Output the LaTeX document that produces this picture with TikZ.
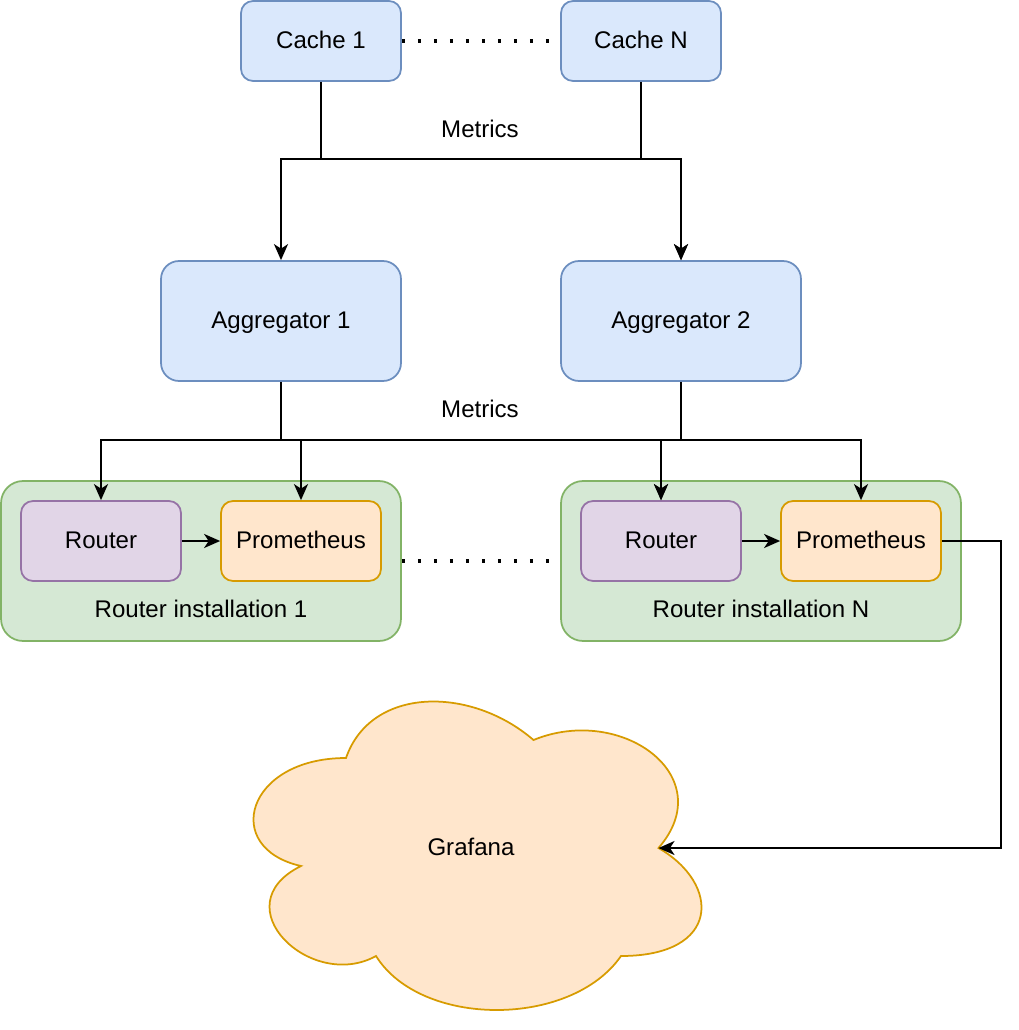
\documentclass[tikz,border=0pt]{standalone}
\usepackage{fontspec}
\setmainfont{Liberation Sans}
\usetikzlibrary{positioning,calc}
\usetikzlibrary{arrows.meta}
\definecolor{CacheFill}{HTML}{DAE8FC}
\definecolor{CacheLine}{HTML}{6C8EBF}
\definecolor{InstFill}{HTML}{D5E8D4}
\definecolor{InstLine}{HTML}{82B366}
\definecolor{RouterFill}{HTML}{E1D5E7}
\definecolor{RouterLine}{HTML}{9673A6}
\definecolor{PromFill}{HTML}{FFE6CC}
\definecolor{PromLine}{HTML}{D79B00}
\tikzset{
  txt/.style={inner sep=0pt,font=\fontsize{13.7}{16}\selectfont,text height=.82em,text depth=0pt},
  box/.style={txt,line width=0.035cm,minimum width=3.2cm,minimum height=1.6cm,rounded corners=0.24cm},
  cachebox/.style={box,draw=CacheLine,fill=CacheFill},
  aggbox/.style={box,draw=CacheLine,fill=CacheFill,minimum width=4.8cm,minimum height=2.4cm,rounded corners=0.36cm},
  instbox/.style={box,draw=InstLine,fill=InstFill,minimum width=8cm,minimum height=3.2cm,rounded corners=0.44cm},
  routerbox/.style={box,draw=RouterLine,fill=RouterFill},
  prombox/.style={box,draw=PromLine,fill=PromFill},
}
\tikzset{arr/.style={draw=black,line width=0.04cm,-{Stealth[length=0.32cm,width=0.28cm,inset=0.09cm]}},
  dots/.style={draw=black,line width=0.07cm,dash pattern=on 0.07cm off 0.25cm},
  cloudbox/.style={draw=PromLine,fill=PromFill,line width=0.035cm}}

\begin{document}
\begin{tikzpicture}[x=0.02cm,y=-0.02cm]
\useasboundingbox (0,0) rectangle (1018,1030);
% caches and aggregators
\node[cachebox] (cache1) at (321,41) {Cache 1};
\node[cachebox] (cacheN) at (641,41) {Cache N};
\node[aggbox] (agg1) at (281,321) {Aggregator 1};
\node[aggbox] (agg2) at (681,321) {Aggregator 2};
\node[txt] (metrics1) at (480,130) {Metrics};
\node[txt] (metrics2) at (480,410) {Metrics};
\coordinate (mbus) at (481,159);
\coordinate (rbus) at (481,440);
% router installations
\node[instbox] (inst1) at (201,561) {};
\node[instbox] (instN) at (761,561) {};
\node[txt] (inst1lab) at (201,610) {Router installation 1};
\node[txt] (instNlab) at (761,610) {Router installation N};
\node[routerbox] (router1) at (101,541) {Router};
\node[prombox] (prom1) at (301,541) {Prometheus};
\node[routerbox] (routerN) at (661,541) {Router};
\node[prombox] (promN) at (861,541) {Prometheus};
% grafana
\draw[cloudbox] (346,758) .. controls (246,758) and (221,848) .. (301,866)
  .. controls (221,905.6) and (311,992) .. (376,956)
  .. controls (421,1028) and (571,1028) .. (621,956)
  .. controls (721,956) and (721,884) .. (658.5,848)
  .. controls (721,776) and (621,704) .. (533.5,740)
  .. controls (471,686) and (371,686) .. (346,758) -- cycle;
\coordinate (cloudin) at (658.5,848);
\node[txt] (grafana) at (471,848) {Grafana};
% connectors
\draw[dots] (cache1.east) -- (cacheN.west);
\draw[dots] (inst1.east) -- (instN.west);
\draw[arr] (cache1.south) -- (cache1.south |- mbus) -| (agg1.north);
\draw[arr] (cache1.south |- mbus) -| (agg2.north);
\draw[arr] (cacheN.south) -- (cacheN.south |- mbus) -| (agg2.north);
\draw[arr] (agg1.south) -- (agg1.south |- rbus) -| (router1.north);
\draw[arr] (agg1.south |- rbus) -| (prom1.north);
\draw[arr] (agg1.south |- rbus) -| (routerN.north);
\draw[arr] (agg2.south) -- (agg2.south |- rbus) -| (promN.north);
\draw[arr] (agg2.south |- rbus) -| (routerN.north);
\draw[arr] (router1) -- (prom1);
\draw[arr] (routerN) -- (promN);
\draw[arr] (promN.east) -- (1001,541) |- (cloudin);
\end{tikzpicture}
\end{document}
